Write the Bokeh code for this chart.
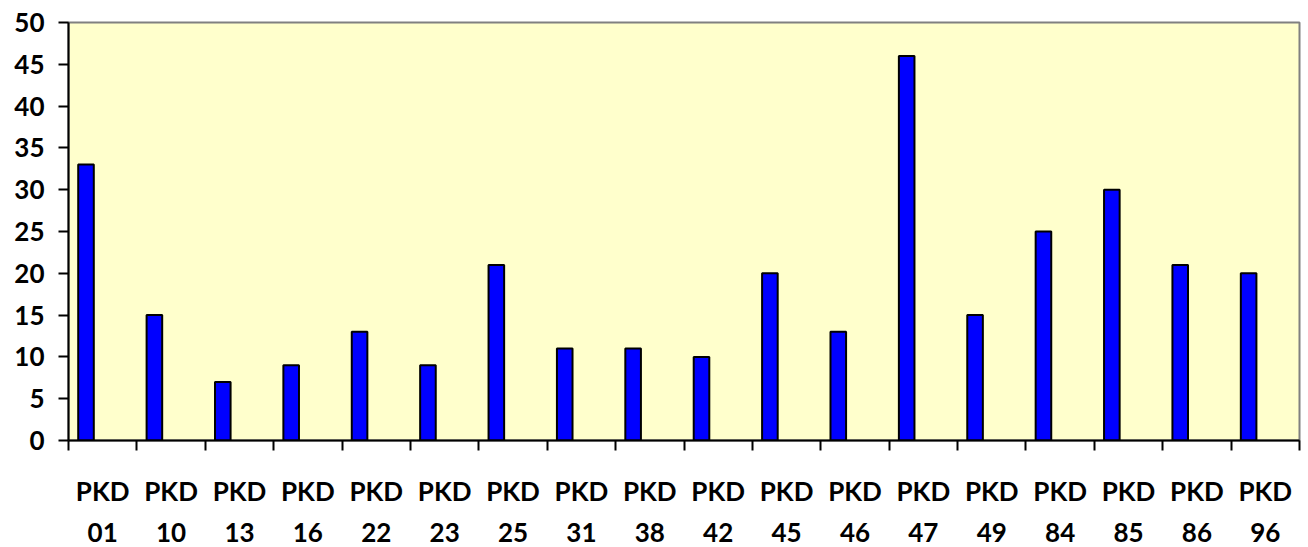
from bokeh.plotting import figure
from bokeh.models import Range1d, LinearAxis, FixedTicker, ColumnDataSource
from bokeh.embed import file_html
from bokeh.resources import INLINE

prefixes = ["PKD"] * 18
codes = ["01", "10", "13", "16", "22", "23", "25", "31", "38",
         "42", "45", "46", "47", "49", "84", "85", "86", "96"]
values = [33, 15, 7, 9, 13, 9, 21, 11, 11, 10, 20, 13, 46, 15, 25, 30, 21, 20]
y_ticks = list(range(0, 51, 5))

n = len(codes)
idx = list(range(n))
src = ColumnDataSource(dict(x=[i + 0.256 for i in idx], top=values))

p = figure(width=1308, height=547, output_backend="svg", toolbar_location=None,
           x_range=Range1d(0, n), y_range=Range1d(0, 50),
           min_border_left=68, min_border_right=9, min_border_top=22,
           min_border_bottom=107, x_axis_location=None)
p.background_fill_color = "#FFFFCC"
p.border_fill_color = "white"
p.outline_line_color = "#808080"
p.outline_line_width = 2
p.xgrid.visible = False
p.ygrid.visible = False

p.vbar(x="x", top="top", bottom=0, width=0.228, source=src,
       fill_color="#0000FF", line_color="black", line_width=2)

FONT = "Lato"

# y axis
ya = p.yaxis[0]
ya.ticker = FixedTicker(ticks=y_ticks)
ya.axis_line_color = "black"
ya.axis_line_width = 2
ya.major_tick_line_color = "black"
ya.major_tick_line_width = 2
ya.major_tick_out = 10
ya.major_tick_in = 0
ya.minor_tick_line_color = None
ya.major_label_text_font = FONT
ya.major_label_text_font_style = "bold"
ya.major_label_text_font_size = "26px"
ya.major_label_text_color = "black"
ya.major_label_standoff = 14


def label_axis(texts, standoff, boundary_ticks):
    ticker = FixedTicker(ticks=[i + 0.5 for i in idx],
                         minor_ticks=list(range(n + 1)) if boundary_ticks else [])
    ax = LinearAxis(ticker=ticker)
    ax.major_label_overrides = {i + 0.5: t for i, t in zip(idx, texts)}
    ax.major_tick_line_color = None
    ax.major_tick_out = 0
    ax.major_tick_in = 0
    if boundary_ticks:
        ax.axis_line_color = "black"
        ax.axis_line_width = 2
        ax.minor_tick_line_color = "black"
        ax.minor_tick_line_width = 2
        ax.minor_tick_out = 10
        ax.minor_tick_in = 0
    else:
        ax.axis_line_color = None
        ax.minor_tick_line_color = None
    ax.major_label_text_font = FONT
    ax.major_label_text_font_style = "bold"
    ax.major_label_text_font_size = "26px"
    ax.major_label_text_color = "black"
    ax.major_label_standoff = standoff
    return ax


p.add_layout(label_axis(prefixes, 24, True), "below")
p.add_layout(label_axis(codes, 13, False), "below")

open("out.html", "w").write(file_html(p, INLINE))
